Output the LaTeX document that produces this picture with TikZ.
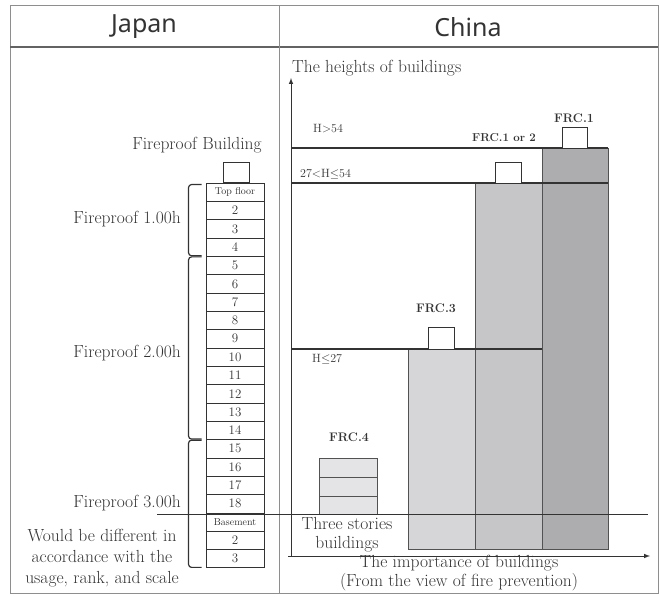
\documentclass[tikz,border=0pt]{standalone}
\usepackage{fontspec}
\newfontfamily\headfont{Noto Sans}
\usetikzlibrary{arrows,calc,positioning}
\definecolor{ink}{HTML}{333333}
\definecolor{rulegray}{HTML}{8E8E8E}
\definecolor{barA}{HTML}{D6D6D8}
\definecolor{barB}{HTML}{C6C6C8}
\definecolor{barC}{HTML}{ADADB0}
\definecolor{barD}{HTML}{E4E4E6}
\newcommand{\flrlab}[1]{{\fontsize{10}{10}\selectfont #1}}

\begin{document}
\begin{tikzpicture}[x=1pt, y=-1pt, >=latex,
    txt/.style={text=ink, font=\fontsize{17.5}{21}\selectfont, inner sep=0pt},
    lvl/.style={text=ink, font=\fontsize{12}{12}\selectfont, inner sep=0pt, anchor=west},
    frc/.style={text=ink, font=\fontsize{12.4}{13}\selectfont\bfseries, inner sep=0pt},
    floorbox/.style={draw=ink, line width=0.9pt, minimum width=58pt, minimum height=18.33pt,
      inner sep=0pt, text=ink, font=\fontsize{13}{13}\selectfont},
    roof/.style={draw=ink, line width=0.9pt, fill=white},
    brk/.style={draw=ink, line width=1.2pt, rounded corners=3pt},
    bar/.style={draw=ink!85, line width=0.9pt},
    level/.style={draw=ink, line width=1.2pt}]
  \useasboundingbox (0,0) rectangle (660,596);
  % table frame
  \draw[rulegray, line width=1pt] (10,6) rectangle (658,593);
  \draw[rulegray!70!black, line width=2pt] (10,47) -- (658,47);
  \draw[rulegray, line width=1pt] (279,6) -- (279,593);
  \node[text=ink, font=\headfont\fontsize{25}{25}\selectfont] (japan) at (144,27) {Japan};
  \node[text=ink, font=\headfont\fontsize{25}{25}\selectfont] (china) at (468,27) {China};

  % Japan: floors of a fireproof building
  \foreach \lab [count=\i from 0] in {{\flrlab{Top floor}},2,3,4,5,6,7,8,9,10,11,12,13,14,15,16,17,18,{\flrlab{Basement}},2,3}
    \node[floorbox] (fl\i) at (235,{192.17+18.33*\i}) {\lab};
  \draw[roof] ($(fl0.north)+(-12,0)$) rectangle ++(26,-20);
  \node[txt] (fpb) at (197,145) {Fireproof Building};
  \draw[brk] ($(fl0.north west)+(-4,2)$) -- ++(-13,0) |- ($(fl3.south west)+(-4,-1)$);
  \draw[brk] ($(fl4.north west)+(-4,1)$) -- ++(-13,0) |- ($(fl13.south west)+(-4,-1)$);
  \draw[brk] ($(fl14.north west)+(-4,1)$) -- ++(-13,0) |- ($(fl20.south west)+(-4,-1)$);
  \node[txt, anchor=east] (fp1) at (181,219) {Fireproof 1.00h};
  \node[txt, anchor=east] (fp2) at (181,353) {Fireproof 2.00h};
  \node[txt, anchor=east] (fp3) at (181,503) {Fireproof 3.00h};
  \node[txt, align=center] (note) at (102,558) {Would be different in\\accordance with the\\usage, rank, and scale};

  % China: bars by importance
  \fill[barA] (408,349) rectangle (475,549);
  \fill[barB] (475,183) rectangle (542,549);
  \fill[barC] (542,148) rectangle (608,549);
  \draw[bar] (408,349) rectangle (475,549);
  \draw[bar] (475,183) rectangle (542,549);
  \draw[bar] (542,148) rectangle (608,549);
  \fill[barD] (319,458) rectangle (377,514);
  \draw[bar] (319,458) rectangle (377,514);
  \draw[bar] (319,477) -- (377,477);
  \draw[bar] (319,496) -- (377,496);

  % axes
  \coordinate (org) at (291,556);
  \coordinate (ytop) at (291,78);
  \coordinate (xend) at (650,556);
  \draw[->, ink, line width=1pt] (org) -- (ytop);
  \draw[->, ink, line width=1pt] ($(org)+(-3,0)$) -- (xend);

  % height levels
  \draw[level] (291,148) -- (608,148);
  \draw[level] (291,183) -- (608,183);
  \draw[level] (291,349) -- (542,349);
  \draw[ink, line width=1pt] (157,514) -- (648,514);
  \draw[roof] (562,148) rectangle (587,127);
  \draw[roof] (495,183) rectangle (521,162);
  \draw[roof] (428,349) rectangle (454,327);

  \node[txt, anchor=west] (hgt) at (292,68) {The heights of buildings};
  \node[lvl] (h1) at (313,129) {H$>$54};
  \node[lvl] (h2) at (300,174) {27$<$H$\leq$54};
  \node[lvl] (h3) at (312,359) {H$\leq$27};
  \node[frc] (frc1) at (574,118) {FRC.1};
  \node[frc, font=\fontsize{11.5}{12}\selectfont\bfseries] (frc12) at (504,138) {FRC.1 or 2};
  \node[frc] (frc3) at (436,308) {FRC.3};
  \node[frc] (frc4) at (349,437) {FRC.4};
  \node[txt, align=center, font=\fontsize{17.5}{19}\selectfont] (three) at (347,535) {Three stories\\buildings};
  \node[txt, align=center, font=\fontsize{17.5}{19}\selectfont] (imp) at (459,573) {The importance of buildings\\(From the view of fire prevention)};
\end{tikzpicture}
\end{document}
